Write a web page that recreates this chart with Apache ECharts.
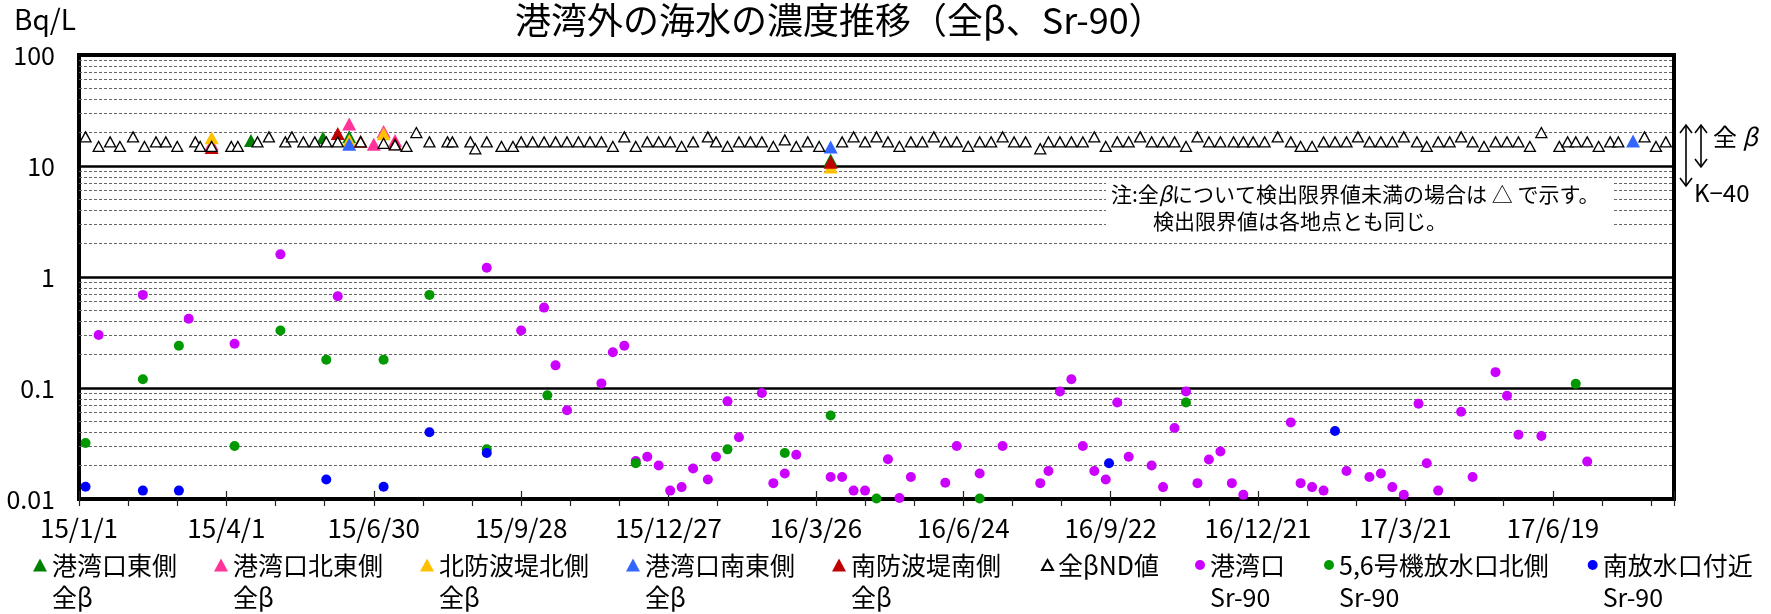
<!DOCTYPE html>
<html>
<head>
<meta charset="utf-8">
<title>港湾外の海水の濃度推移（全β、Sr-90）</title>
<script src="https://cdn.jsdelivr.net/npm/echarts@6/dist/echarts.min.js"></script>
<style>
  html, body { margin: 0; padding: 0; background: #fff; }
  #chart { width: 1771px; height: 614px; }
</style>
</head>
<body>
<div id="chart"></div>
<script>
const FONT = '"Noto Sans CJK JP", "Noto Sans", sans-serif'

// x axis counts days from START; labels every 90 days like the original sheet
const START = '2015-01-01'
const END = '2017-09-01'
const Y_TICK_LABELS = ['0.01', '0.1', '1', '10', '100']

// 全β detected (Bq/L)
const betaEast = [ // 港湾口東側
  ['2015-04-16', 17.0], ['2015-05-30', 18.0], ['2015-06-15', 18.3], ['2016-04-04', 11.3]
]
const betaNorthEast = [ // 港湾口北東側
  ['2015-03-23', 15.8], ['2015-06-15', 23.9], ['2015-06-30', 15.7], ['2015-07-06', 20.5],
  ['2015-07-13', 17.0]
]
const betaNorthBreakwater = [ // 北防波堤北側
  ['2015-03-23', 18.0], ['2015-06-15', 17.0], ['2015-07-06', 19.5], ['2016-04-04', 9.8]
]
const betaSouthEast = [ // 港湾口南東側
  ['2015-06-15', 15.7], ['2016-04-04', 14.8], ['2017-08-07', 16.8]
]
const betaSouthBreakwater = [ // 南防波堤南側
  ['2015-03-23', 14.7], ['2015-06-08', 19.6], ['2015-06-22', 16.7], ['2015-07-13', 15.9],
  ['2016-04-04', 10.8]
]

// 全β below detection limit (plotted at the limit)
const betaNd = [
  ['2015-01-05', 18.3], ['2015-01-13', 15.0], ['2015-01-20', 16.5], ['2015-01-26', 15.0],
  ['2015-02-03', 18.3], ['2015-02-10', 15.0], ['2015-02-17', 16.5], ['2015-02-23', 16.5],
  ['2015-03-02', 15.0], ['2015-03-13', 16.5], ['2015-03-16', 15.0], ['2015-03-23', 15.0],
  ['2015-04-04', 15.0], ['2015-04-08', 15.0], ['2015-04-20', 16.5], ['2015-04-27', 18.3],
  ['2015-05-07', 16.5], ['2015-05-11', 18.3], ['2015-05-18', 16.5], ['2015-05-25', 16.5],
  ['2015-06-01', 16.5], ['2015-06-08', 16.5], ['2015-06-22', 16.5], ['2015-07-06', 16.0],
  ['2015-07-13', 15.5], ['2015-07-20', 15.0], ['2015-07-26', 20.0], ['2015-08-03', 16.5],
  ['2015-08-14', 16.5], ['2015-08-17', 16.5], ['2015-08-28', 16.5], ['2015-08-31', 14.3],
  ['2015-09-07', 16.5], ['2015-09-16', 15.0], ['2015-09-23', 15.0], ['2015-09-28', 16.5],
  ['2015-10-05', 16.5], ['2015-10-12', 16.5], ['2015-10-19', 16.5], ['2015-10-26', 16.5],
  ['2015-11-02', 16.5], ['2015-11-09', 16.5], ['2015-11-16', 16.5], ['2015-11-23', 15.0],
  ['2015-11-30', 18.3], ['2015-12-07', 15.0], ['2015-12-14', 16.5], ['2015-12-21', 16.5],
  ['2015-12-28', 16.5], ['2016-01-04', 15.0], ['2016-01-11', 16.5], ['2016-01-20', 18.3],
  ['2016-01-25', 16.5], ['2016-02-01', 15.0], ['2016-02-08', 16.5], ['2016-02-15', 16.5],
  ['2016-02-22', 16.5], ['2016-02-29', 15.0], ['2016-03-07', 17.2], ['2016-03-14', 15.0],
  ['2016-03-21', 16.5], ['2016-03-28', 15.0], ['2016-04-11', 16.5], ['2016-04-18', 18.3],
  ['2016-04-25', 16.5], ['2016-05-02', 18.3], ['2016-05-09', 16.5], ['2016-05-16', 15.0],
  ['2016-05-23', 16.5], ['2016-05-30', 16.5], ['2016-06-06', 18.3], ['2016-06-13', 16.5],
  ['2016-06-20', 16.5], ['2016-06-27', 15.0], ['2016-07-04', 16.5], ['2016-07-11', 16.5],
  ['2016-07-18', 18.3], ['2016-07-25', 16.5], ['2016-08-01', 16.5], ['2016-08-10', 14.3],
  ['2016-08-15', 16.5], ['2016-08-22', 16.5], ['2016-08-29', 16.5], ['2016-09-05', 16.5],
  ['2016-09-12', 18.3], ['2016-09-19', 15.0], ['2016-09-26', 16.5], ['2016-10-03', 16.5],
  ['2016-10-10', 18.3], ['2016-10-17', 16.5], ['2016-10-24', 16.5], ['2016-10-31', 16.5],
  ['2016-11-07', 15.0], ['2016-11-14', 18.3], ['2016-11-21', 16.5], ['2016-11-28', 16.5],
  ['2016-12-06', 16.5], ['2016-12-12', 16.5], ['2016-12-18', 16.5], ['2016-12-25', 16.5],
  ['2017-01-02', 18.3], ['2017-01-10', 16.5], ['2017-01-16', 15.0], ['2017-01-23', 15.0],
  ['2017-01-30', 16.5], ['2017-02-06', 16.5], ['2017-02-13', 16.5], ['2017-02-20', 18.3],
  ['2017-02-27', 16.5], ['2017-03-06', 16.5], ['2017-03-13', 16.5], ['2017-03-20', 18.3],
  ['2017-03-28', 16.5], ['2017-04-03', 15.0], ['2017-04-10', 16.5], ['2017-04-17', 16.5],
  ['2017-04-24', 18.3], ['2017-05-01', 16.5], ['2017-05-08', 15.0], ['2017-05-15', 16.5],
  ['2017-05-22', 16.5], ['2017-05-29', 16.5], ['2017-06-05', 15.0], ['2017-06-12', 20.0],
  ['2017-06-23', 15.0], ['2017-06-28', 16.5], ['2017-07-03', 16.5], ['2017-07-10', 16.5],
  ['2017-07-17', 15.0], ['2017-07-24', 16.5], ['2017-07-29', 16.5], ['2017-08-14', 18.3],
  ['2017-08-21', 15.0], ['2017-08-27', 16.5]
]

// Sr-90 (Bq/L)
const harborMouthSr = [ // 港湾口
  ['2015-01-13', 0.30], ['2015-02-09', 0.69], ['2015-03-09', 0.42], ['2015-04-06', 0.25],
  ['2015-05-04', 1.6], ['2015-06-08', 0.67], ['2015-09-07', 1.21], ['2015-09-28', 0.33],
  ['2015-10-12', 0.53], ['2015-10-19', 0.16], ['2015-10-26', 0.063], ['2015-11-16', 0.11],
  ['2015-11-23', 0.21], ['2015-11-30', 0.24], ['2015-12-07', 0.022], ['2015-12-14', 0.024],
  ['2015-12-21', 0.020], ['2015-12-28', 0.0119], ['2016-01-04', 0.0128], ['2016-01-11', 0.0188],
  ['2016-01-20', 0.015], ['2016-01-25', 0.024], ['2016-02-01', 0.076], ['2016-02-08', 0.036],
  ['2016-02-22', 0.090], ['2016-02-29', 0.0139], ['2016-03-07', 0.017], ['2016-03-14', 0.025],
  ['2016-04-04', 0.0158], ['2016-04-11', 0.0158], ['2016-04-18', 0.0119], ['2016-04-25', 0.0119],
  ['2016-05-09', 0.0228], ['2016-05-16', 0.0102], ['2016-05-23', 0.0158], ['2016-06-13', 0.014],
  ['2016-06-20', 0.030], ['2016-07-04', 0.017], ['2016-07-18', 0.030], ['2016-08-10', 0.0139],
  ['2016-08-15', 0.0179], ['2016-08-22', 0.093], ['2016-08-29', 0.12], ['2016-09-05', 0.030],
  ['2016-09-12', 0.0179], ['2016-09-19', 0.015], ['2016-09-26', 0.074], ['2016-10-03', 0.024],
  ['2016-10-17', 0.020], ['2016-10-24', 0.0128], ['2016-10-31', 0.0436], ['2016-11-07', 0.093],
  ['2016-11-14', 0.0139], ['2016-11-21', 0.0227], ['2016-11-28', 0.0268], ['2016-12-05', 0.0139],
  ['2016-12-12', 0.0109], ['2017-01-10', 0.049], ['2017-01-16', 0.0139], ['2017-01-23', 0.0128],
  ['2017-01-30', 0.0119], ['2017-02-13', 0.0179], ['2017-02-27', 0.0158], ['2017-03-06', 0.017],
  ['2017-03-13', 0.0128], ['2017-03-20', 0.0109], ['2017-03-29', 0.072], ['2017-04-03', 0.021],
  ['2017-04-10', 0.0119], ['2017-04-24', 0.061], ['2017-05-01', 0.0158], ['2017-05-15', 0.139],
  ['2017-05-22', 0.085], ['2017-05-29', 0.038], ['2017-06-12', 0.037], ['2017-07-10', 0.0218]
]
const unit56OutletSr = [ // 5,6号機放水口北側
  ['2015-01-05', 0.032], ['2015-02-09', 0.12], ['2015-03-03', 0.24], ['2015-04-06', 0.030],
  ['2015-05-04', 0.33], ['2015-06-01', 0.18], ['2015-07-06', 0.18], ['2015-08-03', 0.69],
  ['2015-09-07', 0.028], ['2015-10-14', 0.086], ['2015-12-07', 0.021], ['2016-02-01', 0.028],
  ['2016-03-07', 0.026], ['2016-04-04', 0.0565], ['2016-05-02', 0.0101], ['2016-07-04', 0.0101],
  ['2016-11-07', 0.074], ['2017-07-03', 0.109]
]
const southOutletSr = [ // 南放水口付近
  ['2015-01-05', 0.0129], ['2015-02-09', 0.0119], ['2015-03-03', 0.0119], ['2015-06-01', 0.015],
  ['2015-07-06', 0.0129], ['2015-08-03', 0.040], ['2015-09-07', 0.026], ['2016-09-21', 0.021],
  ['2017-02-06', 0.041]
]

const DAY = 864e5
const t0 = Date.parse(START)
const toDay = s => (Date.parse(s) - t0) / DAY
const toPoints = rows => rows.map(([d, v]) => [toDay(d), v])

function dayLabel(v) {
  const d = new Date(t0 + v * DAY)
  return `${d.getUTCFullYear() % 100}/${d.getUTCMonth() + 1}/${d.getUTCDate()}`
}

// dashed minor grid at 2..9 of each decade
const minorLines = []
for (let e = -2; e < 2; e++) {
  for (let m = 2; m <= 9; m++) minorLines.push({ yAxis: +(m * Math.pow(10, e)).toPrecision(3) })
}

const triangle = (name, color, rows) => ({
  name, type: 'scatter', z: 10, symbol: 'triangle', symbolSize: [14, 13],
  itemStyle: { color, opacity: 1 }, data: toPoints(rows)
})
const dot = (name, color, rows) => ({
  name, type: 'scatter', z: 12, symbol: 'circle', symbolSize: 10,
  itemStyle: { color, opacity: 1 }, data: toPoints(rows)
})

const series = [
  {
    name: 'minor-grid', type: 'line', data: [], silent: true, z: 1,
    markLine: {
      silent: true, z: 1, animation: false, symbol: ['none', 'none'],
      label: { show: false },
      lineStyle: { color: '#666', type: [3, 2], width: 1 },
      data: minorLines
    }
  },
  triangle('港湾口東側 全β', '#008000', betaEast),
  triangle('港湾口北東側 全β', '#FF3399', betaNorthEast),
  triangle('北防波堤北側 全β', '#FFC000', betaNorthBreakwater),
  triangle('港湾口南東側 全β', '#3366FF', betaSouthEast),
  triangle('南防波堤南側 全β', '#C00000', betaSouthBreakwater),
  {
    name: '全βND値', type: 'scatter', z: 11, symbol: 'triangle', symbolSize: [11, 10],
    itemStyle: { color: '#fff', borderColor: '#000', borderWidth: 1.3, opacity: 1 },
    data: toPoints(betaNd)
  },
  dot('港湾口 Sr-90', '#CC00FF', harborMouthSr),
  dot('5,6号機放水口北側 Sr-90', '#009900', unit56OutletSr),
  dot('南放水口付近 Sr-90', '#0000FF', southOutletSr)
]

const names = series.slice(1).map(s => s.name)
const legendText = { fontSize: 25, fontFamily: FONT, color: '#000', lineHeight: 32 }
// blank first line keeps the icon level with the first text line
const twoLines = name => '\n' + name.replace(' ', '\n')
const legendBase = { orient: 'horizontal', padding: 0, selectedMode: false, width: 1400, textStyle: legendText }

const axisFont = { fontSize: 25, fontFamily: FONT, color: '#000' }
const xMax = toDay(END)

const option = {
  animation: false,
  backgroundColor: '#fff',
  title: {
    text: '港湾外の海水の濃度推移（全β、Sr-90）',
    left: 515, top: 2, padding: 0,
    textStyle: { fontSize: 36, fontWeight: 'normal', fontFamily: FONT, color: '#000' }
  },
  grid: {
    left: 79, top: 55, width: 1595, height: 444,
    show: true, borderColor: '#000', borderWidth: 4, backgroundColor: 'transparent'
  },
  xAxis: [
    {
      type: 'value', position: 'bottom', min: 0, max: xMax, interval: 30,
      axisLine: { show: false },
      axisTick: { show: true, length: 7, lineStyle: { color: '#222', width: 1.2 } },
      splitLine: { show: false },
      axisLabel: {
        ...axisFont, fontSize: 26, margin: 16,
        formatter: v => (v % 90 === 0 ? dayLabel(v) : '')
      }
    },
    {
      type: 'value', position: 'bottom', min: 0, max: xMax, interval: 90,
      axisLine: { show: false },
      axisTick: { show: true, inside: true, length: 8, lineStyle: { color: '#222', width: 1.2 } },
      splitLine: { show: false },
      axisLabel: { show: false }
    }
  ],
  yAxis: {
    type: 'log', logBase: 10, min: 0.01, max: 100,
    axisLine: { show: false },
    axisTick: { show: false },
    splitLine: { show: true, lineStyle: { color: '#000', width: 2.5 } },
    axisLabel: {
      ...axisFont, margin: 24,
      formatter: v => Y_TICK_LABELS[Math.round(Math.log10(v)) + 2]
    }
  },
  legend: [
    { ...legendBase, data: names.slice(0, 5), left: 33, top: 517, itemWidth: 14, itemHeight: 13, itemGap: 37, formatter: twoLines },
    { ...legendBase, data: [names[5]], left: 1041, top: 549, itemWidth: 11, itemHeight: 10 },
    { ...legendBase, data: names.slice(6), left: 1195, top: 517, itemWidth: 10, itemHeight: 10, itemGap: 39, formatter: twoLines }
  ],
  graphic: [
    {
      type: 'text', left: 14, top: 5, z: 100,
      style: { text: 'Bq/L', fontSize: 28, fontFamily: FONT, fill: '#000' }
    },
    {
      type: 'rect', z: 100, shape: { x: 1106, y: 178, width: 507, height: 57 },
      style: { fill: '#fff' }
    },
    {
      type: 'text', z: 101, x: 1111, y: 181,
      style: {
        text: '注:全{i|β}について検出限界値未満の場合は △ で示す。\n　　検出限界値は各地点とも同じ。',
        fontSize: 21, fontFamily: FONT, fill: '#000', lineHeight: 27,
        rich: { i: { fontSize: 21, fontFamily: FONT, fontStyle: 'italic', fill: '#000' } }
      }
    },
    // arrows: K-40 span (left) and 全β span (right)
    { type: 'line', z: 100, shape: { x1: 1686, y1: 125, x2: 1686, y2: 186 }, style: { stroke: '#000', lineWidth: 1.6 } },
    { type: 'polyline', z: 100, shape: { points: [[1680, 133], [1686, 125], [1692, 133]] }, style: { stroke: '#000', lineWidth: 1.6, fill: null } },
    { type: 'polyline', z: 100, shape: { points: [[1680, 178], [1686, 186], [1692, 178]] }, style: { stroke: '#000', lineWidth: 1.6, fill: null } },
    { type: 'line', z: 100, shape: { x1: 1701, y1: 125, x2: 1701, y2: 167 }, style: { stroke: '#000', lineWidth: 1.6 } },
    { type: 'polyline', z: 100, shape: { points: [[1695, 133], [1701, 125], [1707, 133]] }, style: { stroke: '#000', lineWidth: 1.6, fill: null } },
    { type: 'polyline', z: 100, shape: { points: [[1695, 159], [1701, 167], [1707, 159]] }, style: { stroke: '#000', lineWidth: 1.6, fill: null } },
    {
      type: 'text', z: 100, x: 1713, y: 137,
      style: {
        text: '全 {i|β}', fontSize: 24, fontFamily: FONT, fill: '#000', verticalAlign: 'middle',
        rich: { i: { fontSize: 24, fontFamily: FONT, fontStyle: 'italic', fill: '#000' } }
      }
    },
    {
      type: 'text', z: 100, x: 1694, y: 193,
      style: { text: 'K−40', fontSize: 24, fontFamily: FONT, fill: '#000', verticalAlign: 'middle' }
    }
  ],
  series
}

const chart = echarts.init(document.getElementById('chart'), null, { renderer: 'canvas' })
chart.setOption(option)
window.addEventListener('resize', () => chart.resize())
</script>
</body>
</html>
